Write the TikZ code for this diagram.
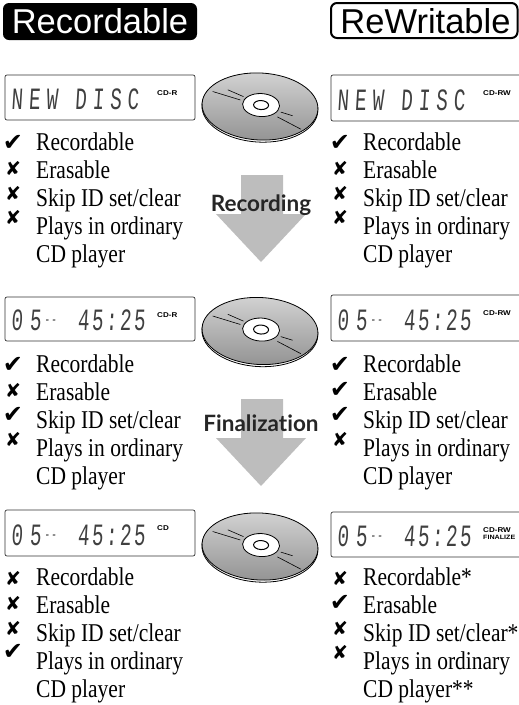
\documentclass[tikz,border=0pt]{standalone}
\usepackage{fontspec}
\setmainfont[FakeStretch=.84]{Liberation Serif}
\setsansfont{Liberation Sans}
\newfontfamily\lcdfont[FakeStretch=.62,FakeSlant=.06,LetterSpace=19]{Liberation Mono}
\newfontfamily\digitfont[FakeStretch=.62,FakeSlant=.06,LetterSpace=8]{Liberation Mono}
\newfontfamily\tagfont[FakeStretch=1.15]{Liberation Sans}
\newfontfamily\stepfont[Ligatures=NoCommon]{Lato}
\newfontfamily\markfont{DejaVu Sans}
\usepackage{tikz}
\definecolor{arrowgray}{gray}{.74}
\definecolor{lcdink}{gray}{.25}
% Disc centred on (260,#1)
\newcommand{\drawdisc}[1]{
  \begin{scope}[shift={(260,#1)},rotate=-3]
    \draw[line width=.8pt,fill=white] (0,1.6) ellipse [x radius=58, y radius=34];
    \draw[line width=.8pt,top color=gray!35,bottom color=gray!85] (0,0)
      ellipse [x radius=58, y radius=33.5];
    \draw[line width=.8pt,fill=white] (1,-1.5) ellipse [x radius=18.5, y radius=11.5];
    \draw[line width=1pt,fill=white] (1,-1.5) ellipse [x radius=7.5, y radius=4.5];
    \draw[line width=.6pt] (-48,-12.5) -- (-20,-5.5);
    \draw[line width=.6pt] (-33,-15) -- (-17,-9);
    \draw[line width=.6pt] (21,4.5) -- (33,7.5);
    \draw[line width=.6pt] (18,9.5) -- (42,20.5);
  \end{scope}
}
% Display panel: left edge, top, bottom, readout, tag
\newcommand{\drawlcd}[5]{
  \draw[lcdframe] (#1,#2) rectangle ({#1==5 ? 195 : 530},#3);
  \node[lcdtext] (lcd-#1-#2) at (#1+6,#3-10.5) {#4};
  \node[lcdtag] (tag-#1-#2) at (#1+152,#2+20) {#5};
}
% The track and time readout
\newcommand{\readout}{{\digitfont 0\hspace{7pt}5\hspace{3pt}\raisebox{6pt}{\fontsize{15}{15}\selectfont--}\hspace{21pt}45:25}}
% Status list: mark x, first baseline, four marks, three footnote stars
\newcommand{\drawstatus}[9]{
  \foreach \n/\dy/\mark in {a/-7/#3,b/18/#4,c/43/#5,d/67/#6} {
    \node[statusmark] (mark-#1-#2-\n) at (#1,#2+\dy) {\mark};
  }
  \node[statustext] (text-#1-#2-a) at (#1+23,#2) {Recordable#7};
  \node[statustext] (text-#1-#2-b) at (#1+23,#2+28) {Erasable};
  \node[statustext] (text-#1-#2-c) at (#1+23,#2+56) {Skip ID set/clear#8};
  \node[statustext] (text-#1-#2-d) at (#1+23,#2+84) {Plays in ordinary};
  \node[statustext] (text-#1-#2-e) at (#1+23,#2+112) {CD player#9};
}
\newcommand{\yes}{{\fontsize{24}{24}\selectfont\symbol{"2714}}}
\newcommand{\no}{\symbol{"2718}}
\begin{document}
\begin{tikzpicture}[x=1pt,y=-1pt,
    lcdframe/.style={line width=.7pt,rounded corners=2pt,draw=black!80},
    lcdtext/.style={anchor=base west,inner sep=0pt,text=lcdink,
      font=\lcdfont\fontsize{31}{31}\selectfont},
    lcdtag/.style={anchor=base west,inner sep=0pt,
      font=\tagfont\bfseries\fontsize{7}{7}\selectfont},
    statusmark/.style={inner sep=0pt,font=\markfont\fontsize{19}{19}\selectfont},
    statustext/.style={anchor=base west,inner sep=0pt,
      font=\fontsize{25.6}{28}\selectfont},
    steplabel/.style={anchor=base,inner sep=0pt,text=black!85,
      font=\stepfont\bfseries\fontsize{22.5}{22.5}\selectfont},
    heading/.style={anchor=base,inner sep=0pt,font=\sffamily\fontsize{34.5}{35}\selectfont}
  ]
  \useasboundingbox (0,0) rectangle (519,705);
  \clip (0,0) rectangle (519,705);

  % Column headings
  \fill[rounded corners=6pt] (3,3) rectangle (197,40);
  \node[heading,text=white] (recordable) at (100,33) {Recordable};
  \draw[line width=2pt,rounded corners=6pt] (331,3) rectangle (517.5,38);
  \node[heading] (rewritable) at (425.5,33) {ReWritable};

  % Discs
  \foreach \y in {106.5,331,546.5} {
    \drawdisc{\y}
  }

  % Block arrows, with the label set over the shaft
  \foreach \y/\name/\label/\base in {175/recording/Recording/36,399/finalization/Finalization/32} {
    \fill[arrowgray] (241,\y) -- (283,\y) -- (283,\y+39) -- (306,\y+39) -- (261,\y+87)
      -- (216,\y+39) -- (241,\y+39) -- cycle;
    \node[steplabel] (\name) at (261,\y+\base) {\label};
  }

  % Display panels
  \drawlcd{5}{75}{120}{NEW DISC}{CD-R}
  \drawlcd{5}{297}{341}{\readout}{CD-R}
  \drawlcd{5}{510}{556}{\readout}{CD}
  \drawlcd{331}{75}{121}{NEW DISC}{CD-RW}
  \drawlcd{331}{295}{341}{\readout}{CD-RW}
  \drawlcd{331}{512}{557}{\readout}{CD-RW}
  \node[lcdtag,font=\tagfont\bfseries\fontsize{6.2}{7}\selectfont] (finalize) at (483,539) {FINALIZE};

  % Status lists
  \drawstatus{13}{150}{\yes}{\no}{\no}{\no}{}{}{}
  \drawstatus{13}{372}{\yes}{\no}{\yes}{\no}{}{}{}
  \drawstatus{13}{585}{\no}{\no}{\no}{\yes}{}{}{}
  \drawstatus{340}{150}{\yes}{\no}{\no}{\no}{}{}{}
  \drawstatus{340}{372}{\yes}{\yes}{\yes}{\no}{}{}{}
  \drawstatus{340}{585}{\no}{\yes}{\no}{\no}{*}{*}{**}
\end{tikzpicture}
\end{document}
